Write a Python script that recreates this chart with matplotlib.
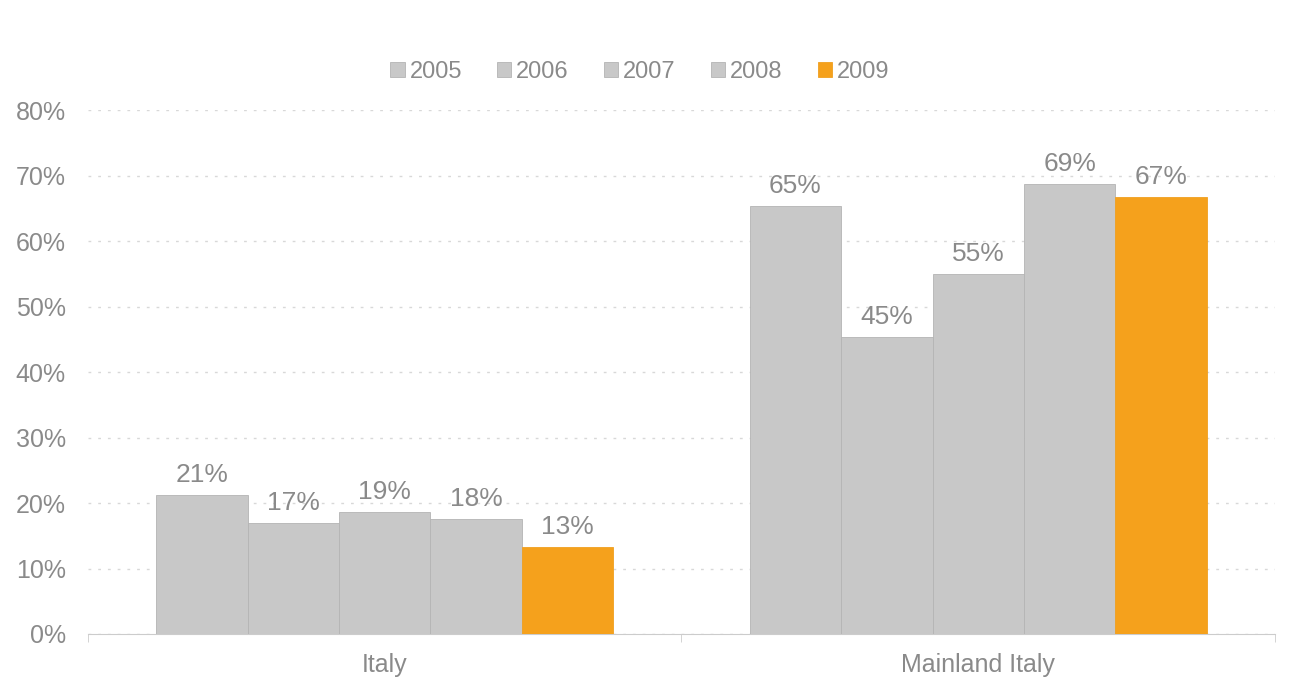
import matplotlib
matplotlib.use("Agg")
import matplotlib.pyplot as plt
import numpy as np

plt.rcParams['font.family'] = ['Liberation Sans', 'DejaVu Sans']

# data
categories = ['Italy', 'Mainland Italy']
years = ['2005', '2006', '2007', '2008', '2009']
values = {
    '2005': [21.2, 65.3],
    '2006': [16.9, 45.3],
    '2007': [18.6, 55.0],
    '2008': [17.6, 68.7],
    '2009': [13.3, 66.7],
}
colors = ['#c8c8c8', '#c8c8c8', '#c8c8c8', '#c8c8c8', '#f5a11c']

text_grey = '#8a8a8a'

fig = plt.figure(figsize=(13.03, 6.88), dpi=100)
ax = fig.add_axes([0.0675, 0.0785, 0.911, 0.7615])

x = np.arange(len(categories)) + 0.5
width = 0.154
offsets = (np.arange(len(years)) - 2) * width

for i, yr in enumerate(years):
    vals = np.array(values[yr]) / 100
    bars = ax.bar(x + offsets[i], vals, width, color=colors[i], label=yr,
                  edgecolor='#b4b4b4' if i < 4 else '#f0a020', linewidth=0.6, zorder=3)
    for b, v in zip(bars, values[yr]):
        ax.text(b.get_x() + b.get_width() / 2, b.get_height() + 0.012,
                '{:.0f}%'.format(v), ha='center', va='bottom',
                fontsize=19, color=text_grey)

ax.set_xlim(0, 2)
ax.set_ylim(0, 0.8)
ax.set_yticks(np.arange(0, 0.81, 0.1))
ax.set_yticklabels(['{:.0f}%'.format(t * 100) for t in np.arange(0, 0.81, 0.1)])
ax.tick_params(axis='y', length=0, labelsize=18, labelcolor=text_grey, pad=16)

# category labels centered, tick marks at category boundaries
ax.set_xticks(x)
ax.set_xticklabels(categories)
ax.tick_params(axis='x', which='major', length=0, labelsize=18, labelcolor=text_grey, pad=14)
ax.set_xticks([0, 1, 2], minor=True)
ax.tick_params(axis='x', which='minor', length=6, color='#cccccc', direction='out')

ax.yaxis.grid(True, linestyle=(0, (2, 5)), color='#d8d8d8', linewidth=1)
ax.set_axisbelow(True)
for s in ['top', 'right', 'left']:
    ax.spines[s].set_visible(False)
ax.spines['bottom'].set_color('#cccccc')

ax.legend(loc='center', bbox_to_anchor=(0.465, 1.073), ncol=5, frameon=False,
          fontsize=17, labelcolor=text_grey, handlelength=0.6, handleheight=0.6,
          handletextpad=0.2, columnspacing=1.5)

fig.savefig('out.png', dpi=100, facecolor='white')
